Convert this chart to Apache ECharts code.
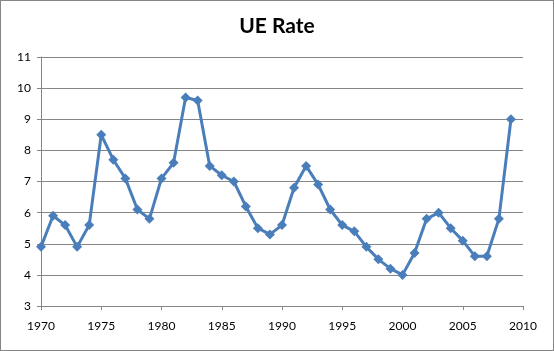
<!DOCTYPE html>
<html><head><meta charset="utf-8">
<script src="https://cdn.jsdelivr.net/npm/echarts@6/dist/echarts.min.js"></script>
<style>html,body{margin:0;padding:0;background:#fff}#c{width:554px;height:351px;}
#b{position:absolute;left:0;top:0;width:552px;height:349px;border:1px solid #868686;pointer-events:none}</style>
</head><body><div id="c"></div><div id="b"></div>
<script>
const years = [1970,1971,1972,1973,1974,1975,1976,1977,1978,1979,1980,1981,1982,1983,1984,1985,1986,1987,1988,1989,1990,1991,1992,1993,1994,1995,1996,1997,1998,1999,2000,2001,2002,2003,2004,2005,2006,2007,2008,2009];
const ueRate = [4.9,5.9,5.6,4.9,5.6,8.5,7.7,7.1,6.1,5.8,7.1,7.6,9.7,9.6,7.5,7.2,7.0,6.2,5.5,5.3,5.6,6.8,7.5,6.9,6.1,5.6,5.4,4.9,4.5,4.2,4.0,4.7,5.8,6.0,5.5,5.1,4.6,4.6,5.8,9.0];
const titleText = 'UE Rate';
const chart = echarts.init(document.getElementById('c'), null, {renderer:'canvas'});
const font = 'Lato, "Open Sans", sans-serif';
chart.setOption({
  animation:false,
  backgroundColor:'#fff',
  title:{text:titleText,left:'center',top:11,textStyle:{fontFamily:font,fontSize:21,fontWeight:'bold',color:'#000'}},
  grid:{left:41,right:31,top:57,bottom:45},
  xAxis:{type:'value',min:1970,max:2010,interval:5,
    axisLine:{lineStyle:{color:'#868686',width:1}},
    axisTick:{show:true,length:4,lineStyle:{color:'#868686'}},
    axisLabel:{color:'#000',fontFamily:font,fontSize:12,margin:14,formatter:v=>String(v)},
    splitLine:{show:false}},
  yAxis:{type:'value',min:3,max:11,interval:1,
    axisLine:{show:true,lineStyle:{color:'#868686',width:1}},
    axisTick:{show:true,length:4,lineStyle:{color:'#868686'}},
    axisLabel:{color:'#000',fontFamily:font,fontSize:12,margin:10},
    splitLine:{show:true,lineStyle:{color:'#868686',width:1}}},
  series:[{type:'line',data:years.map((y,i)=>[y,ueRate[i]]),
    symbol:'diamond',symbolSize:10,
    lineStyle:{color:'#4a7ebb',width:3},
    itemStyle:{color:'#4a7ebb'}}]
});
</script></body></html>
